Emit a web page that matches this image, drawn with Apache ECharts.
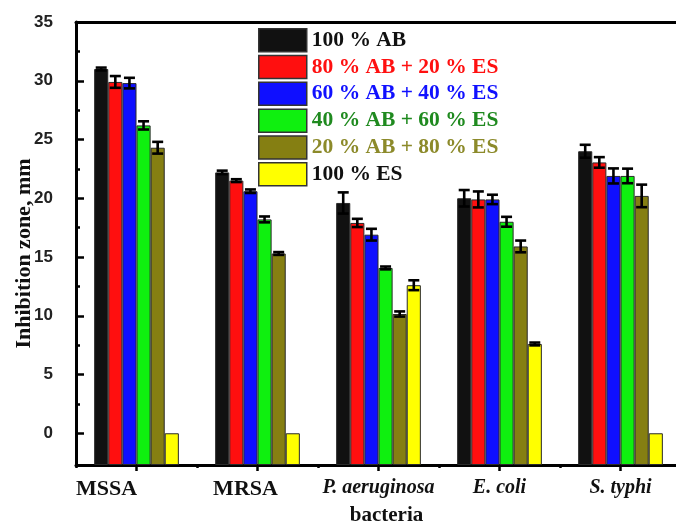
<!DOCTYPE html>
<html>
<head>
<meta charset="utf-8">
<script src="https://cdn.jsdelivr.net/npm/echarts@6/dist/echarts.min.js"></script>
<style>
  html, body { margin: 0; padding: 0; background: #fff; }
  #chart { width: 676px; height: 531px; }
</style>
</head>
<body>
<div id="chart"></div>
<script>
// bacteria on the x axis
const categories = ['MSSA', 'MRSA', 'P. aeruginosa', 'E. coli', 'S. typhi']

// inhibition zone, mm (mean) for each mixture
const ab100 = [31.0, 22.2, 19.6, 20.0, 24.0]
const ab80 = [29.9, 21.5, 17.9, 19.9, 23.05]
const ab60 = [29.8, 20.6, 16.9, 19.9, 21.9]
const ab40 = [26.2, 18.2, 14.07, 18.0, 21.9]
const ab20 = [24.3, 15.3, 10.15, 15.9, 20.2]
const es100 = [0, 0, 12.6, 7.6, 0]

// error bars (+/-)
const ab100Err = [0.12, 0.15, 0.9, 0.7, 0.55]
const ab80Err = [0.5, 0.12, 0.35, 0.68, 0.45]
const ab60Err = [0.45, 0.15, 0.5, 0.4, 0.64]
const ab40Err = [0.35, 0.25, 0.12, 0.42, 0.62]
const ab20Err = [0.5, 0.12, 0.22, 0.5, 0.96]
const es100Err = [0, 0, 0.42, 0.12, 0]

const seriesNames = ['100 % AB', '80 % AB + 20 % ES', '60 % AB + 40 % ES', '40 % AB + 60 % ES', '20 % AB + 80 % ES', '100 % ES']
const majorTicks = [0, 5, 10, 15, 20, 25, 30, 35]
const minorTicks = [2.5, 7.5, 12.5, 17.5, 22.5, 27.5, 32.5]

const values = [ab100, ab80, ab60, ab40, ab20, es100]
const errors = [ab100Err, ab80Err, ab60Err, ab40Err, ab20Err, es100Err]
const barColors = ['#111111', '#ff0f0f', '#0f0fff', '#0ff00f', '#857f12', '#ffff00']
const legendTextColors = ['#111111', '#ff1010', '#1010ff', '#1f8a1f', '#8c8a2a', '#111111']

const Y_MIN = -2.7
const Y_MAX = 35
const CAT_GAP = 0.3 // barCategoryGap as fraction

const chart = echarts.init(document.getElementById('chart'))

const series = []
values.forEach((vals, s) => {
  series.push({
    name: seriesNames[s],
    type: 'bar',
    xAxisIndex: 0,
    yAxisIndex: 0,
    barGap: '0%',
    barCategoryGap: '30%',
    itemStyle: {
      color: barColors[s],
      borderColor: '#2a2a2a',
      borderWidth: 1
    },
    data: vals
  })
})

// error bars drawn with a custom series per mixture
values.forEach((vals, s) => {
  series.push({
    type: 'custom',
    xAxisIndex: 0,
    yAxisIndex: 0,
    z: 10,
    silent: true,
    renderItem: (params, api) => {
      const idx = api.value(0)
      const v = api.value(1)
      const e = api.value(2)
      if (!e) return null
      const band = api.size([1, 0])[0]
      const bw = band * (1 - CAT_GAP) / values.length
      const cx = api.coord([idx, v])[0] + (s - (values.length - 1) / 2) * bw
      const yTop = api.coord([idx, v + e])[1]
      const yBot = api.coord([idx, v - e])[1]
      const cap = 5.5
      const style = { stroke: '#000', lineWidth: 2.6 }
      return {
        type: 'group',
        children: [
          { type: 'line', shape: { x1: cx, y1: yTop, x2: cx, y2: yBot }, style: style },
          { type: 'line', shape: { x1: cx - cap, y1: yTop, x2: cx + cap, y2: yTop }, style: style },
          { type: 'line', shape: { x1: cx - cap, y1: yBot, x2: cx + cap, y2: yBot }, style: style }
        ]
      }
    },
    data: vals.map((v, i) => [i, v, errors[s][i]])
  })
})

const labelRich = {
  mssa: { fontFamily: 'Liberation Serif', fontWeight: 'bold', fontSize: 22, color: '#111', padding: [0, 60, 0, 0] },
  mrsa: { fontFamily: 'Liberation Serif', fontWeight: 'bold', fontSize: 22, color: '#111', padding: [0, 24, 0, 0] },
  it: { fontFamily: 'Liberation Serif', fontWeight: 'bold', fontStyle: 'italic', fontSize: 20, color: '#111' }
}

const options = {
  animation: false,
  backgroundColor: '#ffffff',
  grid: {
    left: 76,
    right: -5,
    top: 22,
    bottom: 66,
    outerBoundsMode: 'none',
    containLabel: false
  },
  legend: {
    orient: 'vertical',
    left: 258,
    top: 28,
    padding: 0,
    itemWidth: 48,
    itemHeight: 23,
    itemGap: 2.3,
    icon: 'rect',
    itemStyle: { borderColor: '#333', borderWidth: 1.5 },
    textStyle: {
      fontFamily: 'Liberation Serif',
      fontWeight: 'bold',
      fontSize: 21.5
    },
    data: seriesNames.map((n, i) => ({ name: n, textStyle: { color: legendTextColors[i] } }))
  },
  xAxis: [
    {
      type: 'category',
      position: 'bottom',
      data: categories,
      boundaryGap: true,
      axisLine: { onZero: false, lineStyle: { color: '#000', width: 3 } },
      axisTick: { show: true, alignWithLabel: false, inside: false, length: 3, lineStyle: { color: '#000', width: 2.5 } },
      axisLabel: {
        margin: 13,
        interval: 0,
        formatter: (val, i) => {
          if (i === 0) return '{mssa|' + val + '}'
          if (i === 1) return '{mrsa|' + val + '}'
          return '{it|' + val + '}'
        },
        rich: labelRich
      },
      name: 'bacteria',
      nameLocation: 'middle',
      nameGap: 40,
      nameMoveOverlap: false,
      nameTextStyle: {
        fontFamily: 'Liberation Serif',
        fontWeight: 'bold',
        fontSize: 21,
        color: '#111',
        padding: [0, 0, 0, 16]
      }
    },
    {
      type: 'category',
      position: 'bottom',
      data: categories,
      boundaryGap: true,
      axisLine: { show: false, onZero: false },
      axisTick: { show: true, alignWithLabel: true, inside: false, length: 6, lineStyle: { color: '#000', width: 2.5 } },
      axisLabel: { show: false }
    },
    {
      type: 'category',
      position: 'top',
      data: categories,
      axisLine: { onZero: false, lineStyle: { color: '#000', width: 3 } },
      axisTick: { show: false },
      axisLabel: { show: false }
    }
  ],
  yAxis: [
    {
      type: 'value',
      position: 'left',
      min: Y_MIN,
      max: Y_MAX,
      startValue: Y_MIN,
      axisLine: { show: true, onZero: false, lineStyle: { color: '#000', width: 3 } },
      axisTick: { show: true, inside: true, length: 8, customValues: majorTicks, lineStyle: { color: '#000', width: 2.5 } },
      axisLabel: {
        customValues: majorTicks,
        margin: 23,
        fontFamily: 'Liberation Sans',
        fontWeight: 'bold',
        fontSize: 17,
        color: '#222'
      },
      splitLine: { show: false },
      name: 'Inhibition zone, mm',
      nameLocation: 'middle',
      nameGap: 41,
      nameMoveOverlap: false,
      nameTextStyle: {
        fontFamily: 'Liberation Serif',
        fontWeight: 'bold',
        fontSize: 22,
        color: '#111',
        padding: [0, 20, 0, 0]
      }
    },
    {
      type: 'value',
      position: 'left',
      min: Y_MIN,
      max: Y_MAX,
      axisLine: { show: false, onZero: false },
      axisTick: { show: true, inside: true, length: 4, customValues: minorTicks, lineStyle: { color: '#000', width: 2.5 } },
      axisLabel: { show: false },
      splitLine: { show: false }
    }
  ],
  series: series
}

chart.setOption(options)
</script>
</body>
</html>
